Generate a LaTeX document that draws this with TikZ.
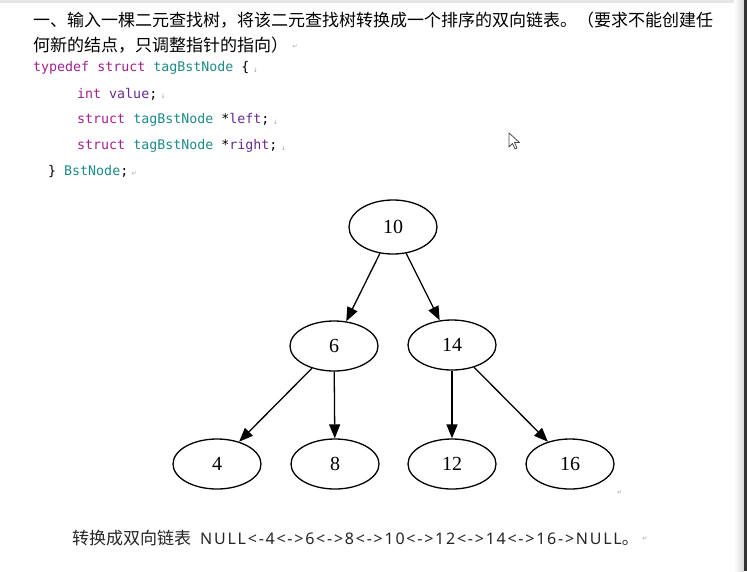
\documentclass[tikz,border=0pt]{standalone}
\usepackage{fontspec}
\setmainfont{Liberation Serif}
\setmonofont{DejaVu Sans Mono}
\newfontfamily\cjk{Noto Sans CJK SC}
\newfontfamily\latsans[LetterSpace=11]{Noto Sans}
\newfontfamily\symf{DejaVu Sans}
\usetikzlibrary{shapes.geometric,arrows.meta}
\definecolor{kw}{HTML}{A3218E}
\definecolor{ty}{HTML}{1F8A8A}
\definecolor{idn}{HTML}{6A2C8C}
\definecolor{retc}{HTML}{A0A0A0}
\begin{document}
\begin{tikzpicture}[x=1pt,y=-1pt,
  tnode/.style={ellipse,draw,line width=1.3pt,minimum width=88pt,minimum height=50pt,inner sep=0pt,font=\fontsize{20}{20}\selectfont},
  edge/.style={line width=1.3pt,-{Triangle[length=14pt,width=11pt]}},
  txt/.style={anchor=west,inner sep=0pt},
  ret/.style={anchor=west,inner sep=0pt,text=retc,font=\symf\fontsize{6}{6}\selectfont}]
\useasboundingbox (0,0) rectangle (747,571);
\fill[white] (0,0) rectangle (747,571);
\fill[black!10] (0,0) rectangle (744,3);
\shade[left color=white,right color=black!15] (734,0) rectangle (744,571);
\fill[black!80] (744,0) rectangle (747,571);
% title
\node[txt,font=\cjk\fontsize{17}{17}\selectfont] (t1) at (33,20) {一、输入一棵二元查找树，将该二元查找树转换成一个排序的双向链表。（要求不能创建任};
\node[txt,font=\cjk\fontsize{17}{17}\selectfont] (t2) at (33,45) {何新的结点，只调整指针的指向）};
\node[ret] (r0) at (t2.east) [xshift=4pt,yshift=-2pt] {↵};
% code
\begin{scope}[every node/.style={txt,font=\ttfamily\fontsize{13.3}{13.3}\selectfont}]
\node (c1) at (33,68) {\textcolor{kw}{typedef struct} \textcolor{ty}{tagBstNode} \{};
\node (c2) at (77,94) {\textcolor{kw}{int} \textcolor{idn}{value};};
\node (c3) at (77,120) {\textcolor{kw}{struct} \textcolor{ty}{tagBstNode} *\textcolor{idn}{left};};
\node (c4) at (77,146) {\textcolor{kw}{struct} \textcolor{ty}{tagBstNode} *\textcolor{idn}{right};};
\node (c5) at (48,172) {\} \textcolor{ty}{BstNode};};
\end{scope}
\node[ret] (r1) at (c1.east) [xshift=3pt,yshift=-2pt] {↓};
\node[ret] (r2) at (c2.east) [xshift=3pt,yshift=-2pt] {↓};
\node[ret] (r3) at (c3.east) [xshift=3pt,yshift=-2pt] {↓};
\node[ret] (r4) at (c4.east) [xshift=3pt,yshift=-2pt] {↓};
\node[ret] (r5) at (c5.east) [xshift=3pt,yshift=-2pt] {↵};
% cursor
\draw[black!70,fill=white,line width=0.8pt,line join=round] (509,133) -- (509,147) -- (512.5,143.5) -- (515,149) -- (517,148) -- (514.5,142.5) -- (519.5,142.5) -- cycle;
% tree
\node[tnode,minimum height=54pt] (n10) at (393,227) {10};
\node[tnode] (n6) at (334,346) {6};
\node[tnode] (n14) at (452,345) {14};
\node[tnode] (n4) at (217,464) {4};
\node[tnode] (n8) at (335,464) {8};
\node[tnode] (n12) at (452,464) {12};
\node[tnode] (n16) at (570,464) {16};
\draw[edge] (n10) -- (n6);
\draw[edge] (n10) -- (n14);
\draw[edge] (n6) -- (n4);
\draw[edge] (n6) -- (n8);
\draw[edge] (n14) -- (n12);
\draw[edge] (n14) -- (n16);
\node[ret] (r6) at (617,493) {↵};
% bottom line
\node[txt,font=\cjk\fontsize{17}{17}\selectfont,text=black!85] (b1) at (72,538) {转换成双向链表\hspace{9pt}{\latsans\fontsize{16}{16}\selectfont NULL<-4<->6<->8<->10<->12<->14<->16->NULL}。};
\node[ret] (r7) at (b1.east) [xshift=3pt,yshift=-1pt] {↵};
\end{tikzpicture}
\end{document}
